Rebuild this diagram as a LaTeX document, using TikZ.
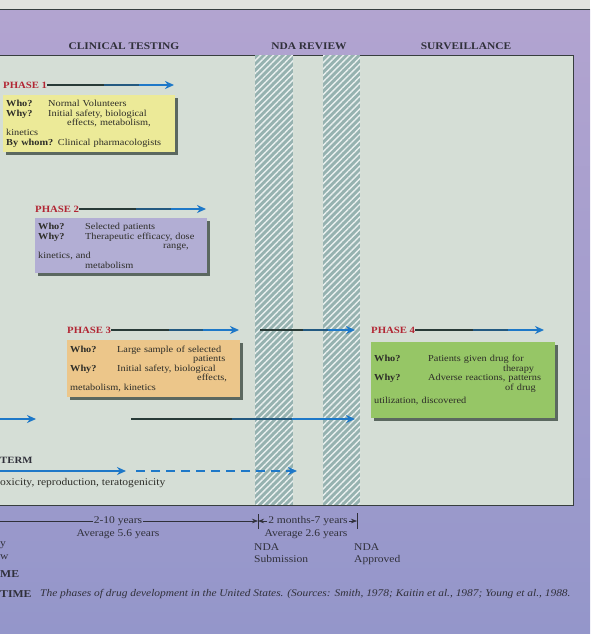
\documentclass[tikz,border=0pt]{standalone}
\usepackage{fontspec}
\setmainfont{Liberation Serif}[FakeStretch=1.12]
\usetikzlibrary{positioning,calc,patterns.meta,shadows,arrows.meta}

\definecolor{sheetgray}{RGB}{226,227,222}
\definecolor{purpletop}{RGB}{178,164,208}
\definecolor{purplebot}{RGB}{148,150,202}
\definecolor{panelgreen}{RGB}{213,222,214}
\definecolor{hatchteal}{RGB}{150,178,176}
\definecolor{framedark}{RGB}{55,62,62}
\definecolor{headtext}{RGB}{48,48,58}
\definecolor{phasered}{RGB}{178,38,52}
\definecolor{tipblue}{RGB}{30,120,200}
\definecolor{stemdark}{RGB}{40,58,55}
\definecolor{boxyellow}{RGB}{236,234,152}
\definecolor{boxlilac}{RGB}{178,174,212}
\definecolor{boxorange}{RGB}{236,198,138}
\definecolor{boxgreen}{RGB}{150,198,102}
\definecolor{shadowgray}{RGB}{70,84,76}
\definecolor{boxtext}{RGB}{45,45,40}

\newcommand{\qlabel}[2]{\makebox[#2][l]{\textbf{#1}}}
\newcommand{\gradarrow}[2]{%
  \draw[bluearrow] (#1) -- (#2);
  \draw[darkstem] (#1) -- ($(#1)!0.45!(#2)$);
  \draw[midstem] ($(#1)!0.45!(#2)$) -- ($(#1)!0.72!(#2)$);
}

\tikzset{
  header/.style={font=\bfseries\fontsize{10.2}{12}\selectfont, text=headtext},
  phaselabel/.style={anchor=west, inner sep=0pt, font=\bfseries\fontsize{9.6}{10}\selectfont, text=phasered},
  infobox/.style={anchor=north west, align=left, inner xsep=3pt, inner ysep=2pt,
    font=\fontsize{9.2}{9.6}\selectfont, text=boxtext,
    drop shadow={shadow xshift=3pt, shadow yshift=-3pt, fill=shadowgray, opacity=.85}},
  bluearrow/.style={line width=2.5pt, draw=tipblue, -{Stealth[length=9pt,width=8pt]}},
  darkstem/.style={line width=2.5pt, draw=stemdark},
  midstem/.style={line width=2.5pt, draw=stemdark!50!tipblue},
  hatch/.style={preaction={fill=hatchteal},
    pattern={Lines[angle=45, distance=4.5pt, line width=1.4pt]}, pattern color=white!80!hatchteal},
  bottomtext/.style={font=\fontsize{10.3}{12}\selectfont, text=headtext},
  timeline/.style={line width=.6pt, draw=headtext},
  timetip/.style={-{Stealth[length=6pt,width=4.5pt]}},
}

\begin{document}
\begin{tikzpicture}[x=1pt,y=-1pt]
\useasboundingbox (0,0) rectangle (590,634);

% sheet, bands and panel
\shade[top color=purpletop, bottom color=purplebot] (0,10) rectangle (590,634);
\fill[sheetgray] (0,0) rectangle (590,9.5);
\draw[framedark, line width=1.2pt] (0,9.8) -- (590,9.8);
\filldraw[fill=panelgreen, draw=framedark, line width=.8pt] (-2,55) rectangle (573,505);

% review strips
\path[hatch] (255,55.5) rectangle (293,504.5);
\path[hatch] (323,55.5) rectangle (360,504.5);

% headers
\node[header] (clin) at (124,46) {CLINICAL TESTING};
\node[header] (nda)  at (309,46) {NDA REVIEW};
\node[header] (surv) at (466,46) {SURVEILLANCE};

% phase 1
\node[phaselabel] (ph1) at (3,85) {PHASE 1};
\coordinate (ph1end) at (174,85);
\gradarrow{ph1.east}{ph1end}
\node[infobox, fill=boxyellow, text width=166pt, minimum height=57pt] (box1) at (3,95)
  {\qlabel{Who?}{42pt}Normal Volunteers\\
   \qlabel{Why?}{42pt}Initial safety, biological\\
   \hspace*{61pt}effects, metabolism,\\
   kinetics\\
   \textbf{By whom?} Clinical pharmacologists};

% phase 2
\node[phaselabel] (ph2) at (35,209) {PHASE 2};
\coordinate (ph2end) at (206,209);
\gradarrow{ph2.east}{ph2end}
\node[infobox, fill=boxlilac, text width=166pt, minimum height=55pt] (box2) at (35,218)
  {\qlabel{Who?}{47pt}Selected patients\\
   \qlabel{Why?}{47pt}Therapeutic efficacy, dose\\
   \hspace*{125pt}range,\\
   kinetics, and\\
   \hspace*{47pt}metabolism};

% phase 3
\node[phaselabel] (ph3) at (67,330) {PHASE 3};
\coordinate (ph3end) at (239,330);
\gradarrow{ph3.east}{ph3end}
\coordinate (rev3a) at (260,330);
\coordinate (rev3b) at (355,330);
\gradarrow{rev3a}{rev3b}
\node[infobox, fill=boxorange, text width=167pt, minimum height=57pt] (box3) at (67,340)
  {\qlabel{Who?}{47pt}Large sample of selected\\
   \hspace*{123pt}patients\\
   \qlabel{Why?}{47pt}Initial safety, biological\\
   \hspace*{127pt}effects,\\
   metabolism, kinetics};

% phase 4
\node[phaselabel] (ph4) at (371,330) {PHASE 4};
\coordinate (ph4end) at (544,330);
\gradarrow{ph4.east}{ph4end}
\node[infobox, fill=boxgreen, text width=178pt, minimum height=76pt] (box4) at (371,342)
  {\qlabel{Who?}{54pt}Patients given drug for\\
   \hspace*{129pt}therapy\\
   \qlabel{Why?}{54pt}Adverse reactions, patterns\\
   \hspace*{131pt}of drug\\[4pt]
   utilization, discovered};

% lower rows
\coordinate (pre0) at (0,419);
\coordinate (pre1) at (36,419);
\draw[bluearrow] (pre0) -- (pre1);
\coordinate (mid0) at (131,419);
\coordinate (mid1) at (355,419);
\gradarrow{mid0}{mid1}

% long term
\node[phaselabel, text=headtext] (lterm) at (0,460) {TERM};
\coordinate (lt0) at (0,471);
\coordinate (lt1) at (126,471);
\coordinate (lt2) at (136,471);
\coordinate (lt3) at (297,471);
\draw[bluearrow] (lt0) -- (lt1);
\draw[bluearrow, line width=2pt, dash pattern=on 9pt off 6pt] (lt2) -- (lt3);
\node[bottomtext, anchor=west, inner sep=0pt, text=boxtext] (ltdesc) at (0,483)
  {oxicity, reproduction, teratogenicity};

% time line
\coordinate (t0) at (0,521);
\coordinate (tk1) at (258,521);
\coordinate (tk2) at (357,521);
\node[bottomtext, inner sep=1pt] (span1) at (118,521) {2-10 years};
\node[bottomtext, inner sep=1pt] (span2) at (308,521) {2 months-7 years};
\draw[timeline] (t0) -- (span1.west);
\draw[timeline, timetip] (span1.east) -- (tk1);
\draw[timeline, timetip] (span2.west) -- (tk1);
\draw[timeline, timetip] (span2.east) -- (tk2);
\draw[timeline] ($(tk1)+(0,-7)$) -- ($(tk1)+(0,8)$);
\draw[timeline] ($(tk2)+(0,-8)$) -- ($(tk2)+(0,8)$);
\node[bottomtext] (avg1) at (118,534) {Average 5.6 years};
\node[bottomtext] (avg2) at (306,534) {Average 2.6 years};
\node[bottomtext, anchor=north west, align=left, inner sep=0pt] (sub) at (254,543) {NDA\\Submission};
\node[bottomtext, anchor=north west, align=left, inner sep=0pt] (appr) at (354,543) {NDA\\Approved};

% caption
\node[bottomtext, anchor=west, inner sep=0pt] (frag1) at (0,545) {y};
\node[bottomtext, anchor=west, inner sep=0pt] (frag2) at (0,557) {w};
\node[anchor=west, inner sep=0pt, text=headtext, font=\bfseries\fontsize{10.5}{12}\selectfont] (frag3) at (0,574) {ME};
\node[anchor=west, inner sep=0pt, text=headtext, font=\bfseries\fontsize{10.5}{12}\selectfont] (captag) at (0,594) {TIME};
\node[anchor=west, inner sep=0pt, text=headtext, font=\itshape\fontsize{10.2}{12}\selectfont] (cap) at (40,594)
  {The phases of drug development in the United States. (Sources: Smith, 1978; Kaitin et al., 1987; Young et al., 1988.};

\end{tikzpicture}
\end{document}
